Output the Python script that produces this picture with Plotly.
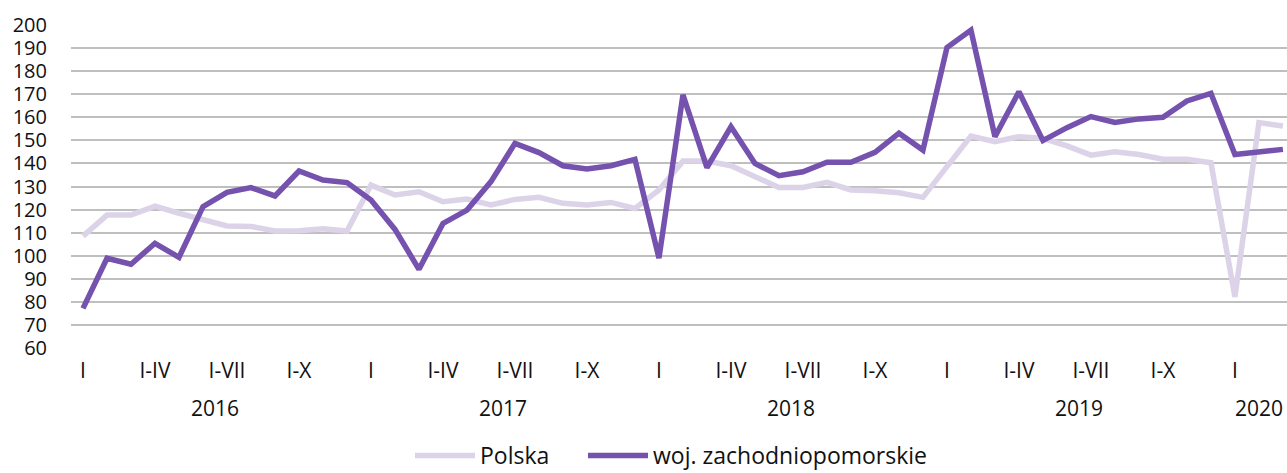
import plotly.graph_objects as go

# Monthly periods, Jan 2016 - Mar 2020
YEARS = [2016, 2017, 2018, 2019, 2020]
MONTHS_PER_YEAR = [12, 12, 12, 12, 3]
TICK_MONTHS = {1: "I", 4: "I-IV", 7: "I-VII", 10: "I-X"}

polska = [
    108.5, 117.6, 117.6, 121.5, 118.4, 115.8, 112.9, 112.7, 110.7, 110.8, 111.7, 110.7,
    130.6, 126.3, 127.7, 123.4, 124.6, 122.0, 124.4, 125.3, 122.7, 122.0, 123.1, 120.5,
    128.5, 141.0, 141.0, 139.0, 134.3, 129.6, 129.6, 131.8, 128.5, 128.2, 127.3, 125.3,
    138.6, 151.9, 149.4, 151.6, 150.9, 147.6, 143.6, 145.1, 143.9, 141.8, 141.8, 140.3,
    82.2, 157.7, 156.2,
]
zachodniopomorskie = [
    77.2, 98.9, 96.3, 105.4, 99.3, 121.3, 127.5, 129.5, 125.9, 136.7, 132.8, 131.7,
    124.1, 111.4, 94.1, 114.0, 119.8, 132.1, 148.7, 144.7, 139.0, 137.6, 139.0, 141.8,
    99.0, 169.7, 138.2, 155.9, 140.0, 134.7, 136.4, 140.5, 140.5, 144.8, 153.1, 145.8,
    190.2, 197.8, 151.6, 171.1, 149.9, 155.5, 160.3, 157.8, 159.3, 160.0, 167.1, 170.4,
    143.9, 144.8, 146.1,
]

POLSKA_COLOR = "#DCD3E9"
ZACH_COLOR = "#7452AE"
FONT = "Open Sans"
TEXT = "#111111"
SIZE = 21

periods = [(y, m) for y, n in zip(YEARS, MONTHS_PER_YEAR) for m in range(1, n + 1)]
x = list(range(len(periods)))

tickvals = [i for i, (y, m) in enumerate(periods) if m in TICK_MONTHS]
ticktext = [TICK_MONTHS[periods[i][1]] for i in tickvals]

fig = go.Figure()
fig.add_trace(go.Scatter(
    x=x, y=polska, mode="lines", name="Polska", legend="legend",
    line=dict(color=POLSKA_COLOR, width=5.5),
))
fig.add_trace(go.Scatter(
    x=x, y=zachodniopomorskie, mode="lines", name="woj. zachodniopomorskie",
    legend="legend2", line=dict(color=ZACH_COLOR, width=5.5),
))

# year labels centred under each year's months
annotations = []
for yr in YEARS:
    idx = [i for i, (y, m) in enumerate(periods) if y == yr]
    annotations.append(dict(
        x=(idx[0] + idx[-1]) / 2, y=0, xref="x", yref="paper",
        yshift=-60, yanchor="middle", text=str(yr), showarrow=False,
        font=dict(family=FONT, size=SIZE, color=TEXT),
    ))

legend_style = dict(
    orientation="h", xref="container", yref="container",
    y=0.037, yanchor="middle", xanchor="left",
    font=dict(family=FONT, size=23, color=TEXT), itemwidth=60,
    bgcolor="rgba(0,0,0,0)",
)

fig.update_layout(
    width=1287, height=473,
    margin=dict(l=71, r=0, t=25, b=125),
    plot_bgcolor="white", paper_bgcolor="white",
    font=dict(family=FONT, size=SIZE, color=TEXT),
    showlegend=True,
    legend=dict(legend_style, x=410 / 1287),
    legend2=dict(legend_style, x=583 / 1287),
    annotations=annotations,
    xaxis=dict(
        range=[-0.5, 50.17], tickvals=tickvals, ticktext=ticktext,
        showgrid=False, zeroline=False, showline=False, ticks="",
        tickfont=dict(family=FONT, size=SIZE, color=TEXT),
        ticklabelstandoff=8, automargin=False,
    ),
    yaxis=dict(
        range=[60, 200], dtick=10, tick0=60,
        showgrid=True, gridcolor="#BFBFBF", gridwidth=2,
        zeroline=False, showline=False, ticks="",
        tickfont=dict(family=FONT, size=20, color=TEXT),
        ticklabelstandoff=23, automargin=False,
    ),
)

fig.write_html(
    "out.html",
    config={"displayModeBar": False},
    post_script="document.body.style.margin='0';",
)
